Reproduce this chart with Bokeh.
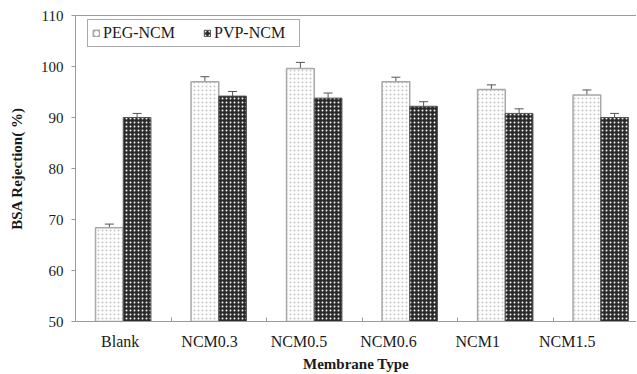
import numpy as np
from bokeh.plotting import figure
from bokeh.models import (Range1d, LinearAxis, FixedTicker, ColumnDataSource,
                          Whisker, Legend, LegendItem, TeeHead)
from bokeh.embed import file_html
from bokeh.resources import INLINE

# ---- data ----
categories = ["Blank", "NCM0.3", "NCM0.5", "NCM0.6", "NCM1", "NCM1.5"]
peg_values = [68.4, 97.0, 99.6, 97.0, 95.5, 94.4]
peg_errors = [0.7, 1.0, 1.2, 0.9, 0.9, 1.0]
pvp_values = [90.0, 94.2, 93.8, 92.2, 90.8, 90.0]
pvp_errors = [0.8, 0.9, 1.0, 0.9, 0.9, 0.8]
y_ticks = [50, 60, 70, 80, 90, 100, 110]

FONT = "Liberation Serif"
AX = "#9a9a9a"
TXT = "#1a1a1a"

FW, FH = 561, 306
x_end = FW / 95.5
lab_end = FW / 89.4

idx = np.arange(len(categories)) + 0.5
off = 0.145
bw = 0.29

src_peg = ColumnDataSource(dict(
    x=idx - off, top=peg_values,
    upper=np.array(peg_values) + np.array(peg_errors),
    lower=np.array(peg_values) - np.array(peg_errors)))
src_pvp = ColumnDataSource(dict(
    x=idx + off, top=pvp_values,
    upper=np.array(pvp_values) + np.array(pvp_errors),
    lower=np.array(pvp_values) - np.array(pvp_errors)))

p = figure(frame_width=FW, frame_height=FH, output_backend="svg", toolbar_location=None,
           x_axis_location=None, y_axis_location=None,
           x_range=Range1d(0, x_end), y_range=Range1d(y_ticks[0], y_ticks[-1]),
           min_border_left=75, min_border_right=0, min_border_top=15, min_border_bottom=50)
p.extra_x_ranges = {"lab": Range1d(0, lab_end)}
p.outline_line_color = None
p.background_fill_color = "white"
p.border_fill_color = "white"
p.xgrid.grid_line_color = None
p.ygrid.grid_line_color = None

r_peg = p.vbar(x="x", top="top", bottom=y_ticks[0], width=bw, source=src_peg,
               fill_color="white", hatch_pattern="dot", hatch_color="#c4c4c4",
               hatch_scale=4, hatch_weight=1,
               line_color="#a8a8a8", line_width=1.5)
r_pvp = p.vbar(x="x", top="top", bottom=y_ticks[0], width=bw, source=src_pvp,
               fill_color="#2a2a2a", hatch_pattern="dot", hatch_color="#f4f4f4",
               hatch_scale=4, hatch_weight=2.6,
               line_color="#555555", line_width=1)

for s in (src_peg, src_pvp):
    p.add_layout(Whisker(base="x", upper="upper", lower="lower", source=s,
                         line_color="#555555", line_width=1,
                         upper_head=TeeHead(size=9, line_color="#555555", line_width=1),
                         lower_head=TeeHead(size=9, line_color="#555555", line_width=1)))

# y axis
yax = LinearAxis(ticker=FixedTicker(ticks=y_ticks, minor_ticks=[]))
yax.axis_line_color = AX
yax.major_tick_line_color = AX
yax.major_tick_out = 4
yax.major_tick_in = 0
yax.major_label_standoff = 8
yax.major_label_text_font = FONT
yax.major_label_text_font_size = "15px"
yax.major_label_text_color = TXT
yax.axis_label = "BSA Rejection( %)"
yax.axis_label_text_font = FONT
yax.axis_label_text_font_style = "bold"
yax.axis_label_text_font_size = "15px"
yax.axis_label_text_color = TXT
yax.axis_label_standoff = 13
p.add_layout(yax, "left")

# top border line
tax = LinearAxis(ticker=FixedTicker(ticks=[], minor_ticks=[]))
tax.axis_line_color = AX
tax.major_tick_line_color = None
tax.minor_tick_line_color = None
tax.major_label_standoff = 0
p.add_layout(tax, "above")

# x axis: category labels at group centres, group boundary ticks pointing inward
boundaries = [k * lab_end / x_end for k in range(1, len(categories))]
lax = LinearAxis(x_range_name="lab",
                 ticker=FixedTicker(ticks=list(idx * 1.0), minor_ticks=boundaries))
lax.major_label_overrides = {float(v): c for v, c in zip(idx, categories)}
lax.axis_line_color = AX
lax.major_tick_line_color = None
lax.minor_tick_line_color = AX
lax.minor_tick_in = 4
lax.minor_tick_out = 0
lax.major_label_standoff = 5
lax.major_label_text_font = FONT
lax.major_label_text_font_size = "16px"
lax.major_label_text_color = TXT
lax.axis_label = "Membrane Type"
lax.axis_label_text_font = FONT
lax.axis_label_text_font_style = "bold"
lax.axis_label_text_font_size = "15px"
lax.axis_label_text_color = TXT
lax.axis_label_standoff = 3
p.add_layout(lax, "below")

legend = Legend(items=[LegendItem(label="PEG-NCM", renderers=[r_peg]),
                       LegendItem(label="PVP-NCM", renderers=[r_pvp])],
                orientation="horizontal", location=(12, 274))
legend.border_line_color = "#555555"
legend.border_line_width = 1
legend.background_fill_color = "white"
legend.background_fill_alpha = 1
legend.label_text_font = FONT
legend.label_text_font_size = "16px"
legend.label_text_color = TXT
legend.glyph_width = 8
legend.glyph_height = 8
legend.padding = 4
legend.spacing = 19
legend.label_width = 81
legend.label_standoff = 3
legend.margin = 0
p.add_layout(legend)

open("out.html", "w").write(file_html(p, INLINE))
